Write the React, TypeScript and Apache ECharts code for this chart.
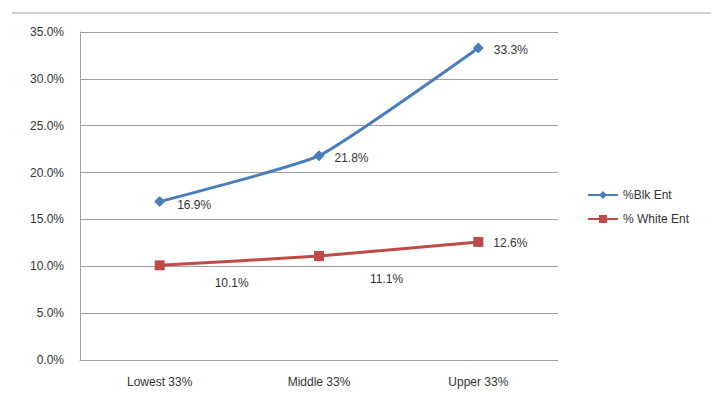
import React, { useEffect, useRef } from "react";
import * as echarts from "echarts";

// Share of entrepreneurs by income tercile
const categories = ["Lowest 33%", "Middle 33%", "Upper 33%"];
const blackEnt = [16.9, 21.8, 33.3];
const whiteEnt = [10.1, 11.1, 12.6];
const seriesNames = ["%Blk Ent", "% White Ent"];

const BLUE = "#4a7ebb";
const RED = "#be4b48";
const TEXT = "#333333";
const FONT = "'Liberation Sans', Arial, sans-serif";

// label placement per point
const blkLabelOffsets = [[2, 3], [0, 2], [0, 2]];
const whtLabelOffsets = [[40, 18], [36, 23], [0, 1]];

export default function App() {
  const ref = useRef<HTMLDivElement>(null);

  useEffect(() => {
    if (!ref.current) return;
    const chart = echarts.init(ref.current, undefined, { renderer: "svg" });

    const labelBase = {
      show: true,
      position: "right" as const,
      distance: 10,
      color: TEXT,
      fontSize: 12,
      fontFamily: FONT,
      formatter: (p: any) => Number(p.value).toFixed(1) + "%",
    };

    chart.setOption({
      animation: false,
      backgroundColor: "#ffffff",
      textStyle: { fontFamily: FONT },
      grid: { left: 80, top: 32, right: 153, bottom: 38, containLabel: false },
      graphic: [
        {
          type: "line",
          shape: { x1: 12, y1: 13, x2: 711, y2: 13 },
          style: { stroke: "#a0a0a0", lineWidth: 1 },
        },
      ],
      legend: {
        orient: "vertical",
        left: 582,
        top: 184,
        itemWidth: 30,
        itemHeight: 10,
        itemGap: 12,
        textStyle: { color: TEXT, fontSize: 12, fontFamily: FONT },
        data: seriesNames,
      },
      xAxis: {
        type: "category",
        data: categories,
        boundaryGap: true,
        axisTick: { show: false },
        axisLine: { lineStyle: { color: "#a0a0a0", width: 1 } },
        axisLabel: { color: TEXT, fontSize: 12, fontFamily: FONT, margin: 16 },
      },
      yAxis: {
        type: "value",
        min: 0,
        max: 35,
        interval: 5,
        axisLine: { show: true, lineStyle: { color: "#a0a0a0", width: 1 } },
        axisTick: { show: false },
        splitLine: { lineStyle: { color: "#a0a0a0", width: 1 } },
        axisLabel: {
          color: TEXT,
          fontSize: 12,
          fontFamily: FONT,
          margin: 16,
          formatter: (v: number) => v.toFixed(1) + "%",
        },
      },
      series: [
        {
          name: seriesNames[0],
          type: "line",
          smooth: 0.15,
          symbol: "diamond",
          symbolSize: 11,
          lineStyle: { color: BLUE, width: 3 },
          itemStyle: { color: BLUE },
          data: blackEnt.map((v, i) => ({
            value: v,
            label: { ...labelBase, offset: blkLabelOffsets[i] },
          })),
        },
        {
          name: seriesNames[1],
          type: "line",
          smooth: 0.15,
          symbol: "rect",
          symbolSize: 10,
          lineStyle: { color: RED, width: 3 },
          itemStyle: { color: RED },
          data: whiteEnt.map((v, i) => ({
            value: v,
            label: { ...labelBase, offset: whtLabelOffsets[i] },
          })),
        },
      ],
    });

    return () => chart.dispose();
  }, []);

  return (
    <div
      ref={ref}
      style={{ position: "fixed", left: 0, top: 0, width: 711, height: 398 }}
    />
  );
}
